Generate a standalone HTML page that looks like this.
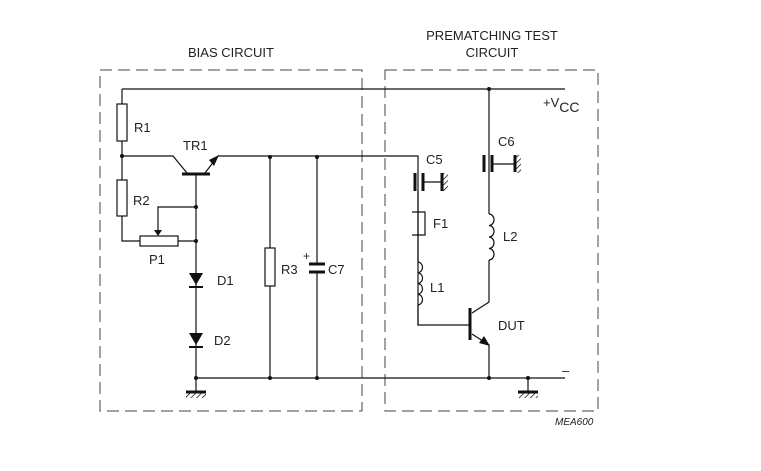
<!DOCTYPE html>
<html><head><style>body{margin:0;background:#fff}svg{display:block}text{font-family:"Liberation Sans",sans-serif;fill:#222}</style></head><body>
<svg width="761" height="471" viewBox="0 0 761 471" xmlns="http://www.w3.org/2000/svg">
<defs>
<pattern id="h" width="4" height="4" patternUnits="userSpaceOnUse" patternTransform="rotate(45)"><line x1="0" y1="0" x2="0" y2="4" stroke="#111" stroke-width="1.5"/></pattern>
</defs>
<g fill="none" stroke="#444" stroke-width="1" stroke-dasharray="12,6">
<rect x="100" y="70" width="262" height="341"/>
<rect x="385" y="70" width="213" height="341"/>
</g>
<g fill="none" stroke="#111" stroke-width="1.2">
<path d="M122 89H565M122 89V104M122 141V180M122 216V241H140M178 241H196"/>
<rect x="117" y="104" width="10" height="37" fill="#fff"/>
<rect x="117" y="180" width="10" height="36" fill="#fff"/>
<rect x="140" y="236" width="38" height="10" fill="#fff"/>
<path d="M122 156H173L187 173M205 173L218 156H418V172M418 191V325H470"/>
<path d="M196 175V378M196 207H158V230"/>
<path d="M196 378H565M196 378V392"/>
<path d="M270 157V248M270 286V378"/>
<rect x="265" y="248" width="10" height="38" fill="#fff"/>
<path d="M317 157V264M317 272V378"/>
<path d="M418 172V262M418 305V325"/>
<path d="M412 212H425V235H412"/>
<path d="M423 182H442M492 164H515"/>
<path d="M418 262a5 5.4 0 0 1 0 10.75a5 5.4 0 0 1 0 10.75a5 5.4 0 0 1 0 10.75a5 5.4 0 0 1 0 10.75"/>
<path d="M489 89V214M489 260V302L472 313M472 334L489 345V378"/>
<path d="M489 214a5 5.75 0 0 1 0 11.5a5 5.75 0 0 1 0 11.5a5 5.75 0 0 1 0 11.5a5 5.75 0 0 1 0 11.5"/>
<path d="M528 378V392"/>
</g>
<g stroke="#111" stroke-width="3">
<path d="M182 174H210"/>
<path d="M470 308V340"/>
<path d="M309 264H325M309 272H325"/>
<path d="M415 173V191M423 173V191M442 173V191"/>
<path d="M484 155V172M492 155V172M515 155V172"/>
<path d="M186 392H206M518 392H538"/>
</g>
<rect x="443" y="173" width="5" height="18" fill="url(#h)"/>
<rect x="516" y="155" width="5" height="18" fill="url(#h)"/>
<rect x="186" y="393" width="20" height="5" fill="url(#h)"/>
<rect x="518" y="393" width="20" height="5" fill="url(#h)"/>
<g fill="#111">
<path d="M219 155L209 160L214 166Z"/>
<path d="M490 346L479 343L484 336Z"/>
<path d="M154 230H162L158 236Z"/>
<path d="M189 273H203L196 285Z"/><rect x="189" y="286" width="14" height="2"/>
<path d="M189 333H203L196 345Z"/><rect x="189" y="346" width="14" height="2"/>
<circle cx="122" cy="156" r="2"/><circle cx="196" cy="207" r="2"/><circle cx="196" cy="241" r="2"/>
<circle cx="270" cy="157" r="2"/><circle cx="317" cy="157" r="2"/><circle cx="196" cy="378" r="2"/>
<circle cx="270" cy="378" r="2"/><circle cx="317" cy="378" r="2"/><circle cx="489" cy="89" r="2"/>
<circle cx="489" cy="378" r="2"/><circle cx="528" cy="378" r="2"/>
</g>
<g font-size="13">
<text x="231" y="57" text-anchor="middle">BIAS  CIRCUIT</text>
<text x="492" y="40" text-anchor="middle">PREMATCHING TEST</text>
<text x="492" y="57" text-anchor="middle">CIRCUIT</text>
<text x="134" y="132">R1</text><text x="133" y="205">R2</text><text x="183" y="150">TR1</text>
<text x="149" y="264">P1</text><text x="217" y="285">D1</text><text x="214" y="345">D2</text>
<text x="281" y="274">R3</text><text x="328" y="274">C7</text><text x="303" y="260" font-size="12">+</text>
<text x="426" y="164">C5</text><text x="498" y="146">C6</text><text x="433" y="228">F1</text>
<text x="503" y="241">L2</text><text x="430" y="292">L1</text><text x="498" y="330">DUT</text>
<text x="543" y="107">+V<tspan font-size="14" dy="5">CC</tspan></text>
<text x="562" y="375">–</text>
<text x="555" y="425" font-size="10" font-style="italic">MEA600</text>
</g>
</svg>
</body></html>
